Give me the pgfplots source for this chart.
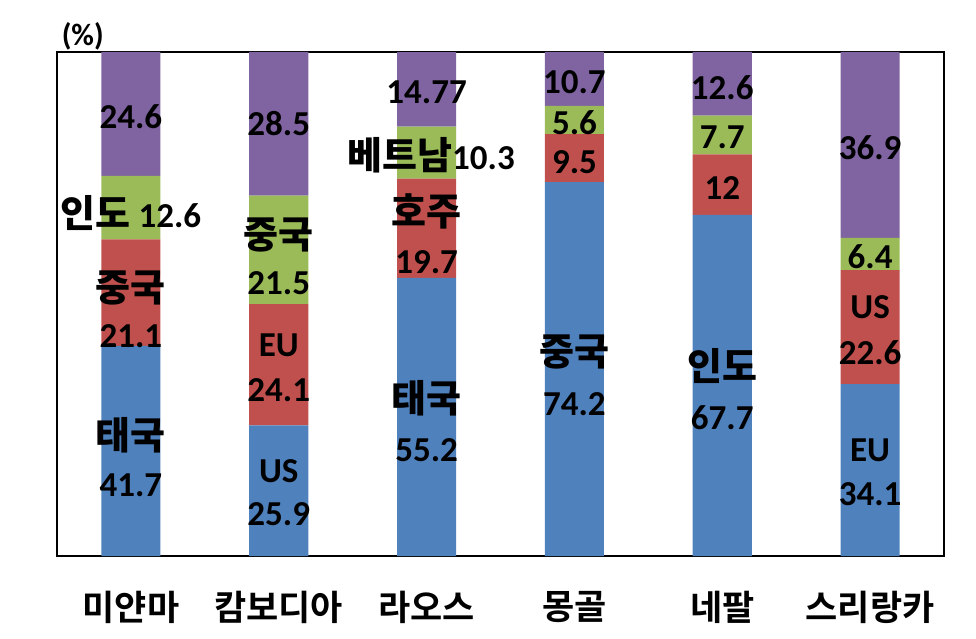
\documentclass[border=0pt]{standalone}
\usepackage{fontspec}
\setmainfont{Carlito}
\newfontfamily\kr{Noto Sans CJK KR Bold}
\newcommand\krb{\kr\fontsize{38}{42}\selectfont}
\usepackage{pgfplots}
\pgfplotsset{compat=1.18}
\definecolor{cblue}{HTML}{4F81BD}
\definecolor{cred}{HTML}{C0504D}
\definecolor{cgreen}{HTML}{9BBB59}
\definecolor{cpurple}{HTML}{8064A2}
\tikzset{lab/.style={font=\bfseries\fontsize{35}{40}\selectfont, inner sep=0pt, anchor=center, text=black}}
\newcommand\barlabels{%
% Myanmar
\node[lab] at (axis cs:0,87.1) {24.6};
\node[lab] at (axis cs:0,68.1) {{\krb 인도} 12.6};
\node[lab] at (axis cs:0,53.2) {\krb 중국};
\node[lab] at (axis cs:0,43.7) {21.1};
\node[lab] at (axis cs:0,24.0) {\krb 태국};
\node[lab] at (axis cs:0,14.1) {41.7};
% Cambodia
\node[lab] at (axis cs:1,85.9) {28.5};
\node[lab] at (axis cs:1,63.7) {\krb 중국};
\node[lab] at (axis cs:1,54.2) {21.5};
\node[lab] at (axis cs:1,41.9) {EU};
\node[lab] at (axis cs:1,32.9) {24.1};
\node[lab] at (axis cs:1,16.9) {US};
\node[lab] at (axis cs:1,8.3) {25.9};
% Laos
\node[lab] at (axis cs:2,92.1) {14.77};
\node[lab] at (axis cs:2.03,79.6) {{\krb 베트남}10.3};
\node[lab] at (axis cs:2,68.3) {\krb 호주};
\node[lab] at (axis cs:2,58.3) {19.7};
\node[lab] at (axis cs:2,31.3) {\krb 태국};
\node[lab] at (axis cs:2,21.0) {55.2};
% Mongolia
\node[lab] at (axis cs:3,94.0) {10.7};
\node[lab] at (axis cs:3,85.9) {5.6};
\node[lab] at (axis cs:3,78.2) {9.5};
\node[lab] at (axis cs:3,40.5) {\krb 중국};
\node[lab] at (axis cs:3,30.2) {74.2};
% Nepal
\node[lab] at (axis cs:4,92.9) {12.6};
\node[lab] at (axis cs:4,83.1) {7.7};
\node[lab] at (axis cs:4,73.0) {12};
\node[lab] at (axis cs:4,37.7) {\krb 인도};
\node[lab] at (axis cs:4,27.4) {67.7};
% Sri Lanka
\node[lab] at (axis cs:5,81.0) {36.9};
\node[lab] at (axis cs:5,59.3) {6.4};
\node[lab] at (axis cs:5,49.4) {US};
\node[lab] at (axis cs:5,40.3) {22.6};
\node[lab] at (axis cs:5,21.0) {EU};
\node[lab] at (axis cs:5,12.3) {34.1};
% unit
\node[font=\bfseries\fontsize{31}{34}\selectfont, inner sep=0pt, anchor=center] at (axis description cs:0.029,1.032) {(\%)};
}
\begin{document}
\begin{tikzpicture}
\path[use as bounding box] (-57pt,-82pt) rectangle (919pt,556pt);
\begin{axis}[
  at={(0pt,0pt)}, anchor=south west,
  scale only axis, width=887pt, height=504pt,
  xmin=-0.5, xmax=5.5, ymin=0, ymax=100,
  ybar stacked, bar width=0.4,
  axis line style={line width=2pt},
  ytick=\empty,
  xtick={0,1,2,3,4,5},
  xticklabels={미얀마,캄보디아,라오스,몽골,네팔,스리랑카},
  major tick length=0pt,
  xticklabel style={font=\kr\fontsize{35}{38}\selectfont, anchor=center, yshift=-51pt},
  clip=false,
  after end axis/.code={\barlabels},
]
\addplot[fill=cblue, draw=none] coordinates {(0,41.7) (1,25.9) (2,55.2) (3,74.2) (4,67.7) (5,34.1)};
\addplot[fill=cred, draw=none] coordinates {(0,21.1) (1,24.1) (2,19.7) (3,9.5) (4,12) (5,22.6)};
\addplot[fill=cgreen, draw=none] coordinates {(0,12.6) (1,21.5) (2,10.3) (3,5.6) (4,7.7) (5,6.4)};
\addplot[fill=cpurple, draw=none] coordinates {(0,24.6) (1,28.5) (2,14.77) (3,10.7) (4,12.6) (5,36.9)};
\end{axis}
\end{tikzpicture}
\end{document}
